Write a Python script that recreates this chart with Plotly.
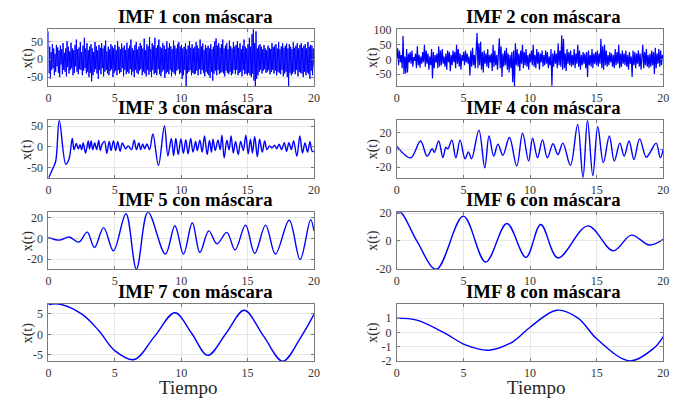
import numpy as np
import plotly.graph_objects as go

# ---------------- data ----------------
t_start, t_end = 0.0, 20.0

imf1_vals = [
    78, -40, 35, -55, 20, -30, 42, -25, 30, -45, 15, -35, 40, -20, 33, -38, 25, -50, 38, -15,
    28, -42, 45, -30, 18, -35, 30, -48, 50, -22, 35, -40, 22, -30, 46, -25, 30, -45, 25, -38,
    40, -20, 55, -35, 28, -42, 33, -28, 48, -30, 20, -45, 38, -32, 60, -25, 30, -40, 45, -35,
    25, -50, 35, -38, 42, -62, 30, -45, 20, -35, 48, -28, 36, -40, 25, -55, 40, -30, 32, -42,
    45, -25, 30, -48, 38, -35, 52, -30, 22, -40, 35, -45, 28, -33, 42, -28, 36, -50, 30, -38,
    40, -32, 25, -45, 50, -30, 35, -40, 28, -36, 44, -25, 32, -48, 38, -30, 26, -42, 46, -35,
    30, -40, 38, -28, 55, -45, 32, -35, 25, -50, 40, -30, 48, -38, 27, -42, 35, -32, 45, -28,
    38, -45, 30, -35, 58, -40, 25, -48, 42, -30, 36, -44, 62, -35, 28, -50, 45, -30, 38, -42,
    60, -38, 32, -45, 40, -28, 55, -42, 35, -48, 30, -35, 45, -30, 38, -52, 28, -40, 50, -35,
    32, -42, 45, -30, 36, -48, 28, -35, 52, -40, 38, -45, 30, -32, 42, -28, 48, -42, 35, -38,
    40, -55, 30, -45, 35, -30, 45, -75, 28, -40, 38, -35, 50, -30, 32, -45, 42, -38, 30, -42,
    35, -40, 48, -32, 38, -45, 30, -28, 55, -42, 36, -30, 44, -38, 26, -48, 40, -35, 32, -40,
    38, -45, 30, -52, 42, -35, 28, -60, 35, -40, 50, -32, 58, -45, 38, -30, 45, -42, 32, -38,
    42, -35, 55, -40, 30, -48, 38, -32, 45, -38, 28, -42, 52, -35, 36, -45, 30, -40, 48, -30,
    35, -42, 40, -30, 50, -45, 32, -38, 45, -35, 28, -48, 38, -30, 55, -42, 35, -40, 30, -45,
    42, -38, 60, -45, 35, -50, 70, -40, 84, -60, 45, -75, 78, -55, 30, -45, 38, -35, 42, -30,
    35, -40, 28, -32, 40, -28, 30, -38, 25, -35, 38, -30, 32, -42, 28, -36, 45, -30, 34, -40,
    38, -32, 42, -45, 30, -35, 48, -38, 28, -42, 36, -30, 45, -48, 32, -40, 38, -35, 44, -50,
    30, -75, 42, -38, 35, -45, 28, -40, 48, -35, 32, -42, 38, -30, 45, -48, 30, -35, 40, -38,
    45, -40, 32, -50, 38, -35, 42, -45, 30, -38, 48, -42, 35, -55, 40, -32, 38, -45, 30, -20,
]

imf2_vals = [
    5, 38, -20, 30, -10, 15, -30, 80, -50, 10, -48, 35, -45, 20, -10,
    25, -15, 30, -25, 8, -5, 20, -30, 45, -20, 15, -28, 10, -15, 25,
    -10, 50, -25, 30, -15, 20, -35, 10, -20, 35, -65, 25, -30, 15, -10,
    20, -30, 45, -25, 30, -20, 35, -15, 10, -25, 20, -35, 30, -10, 25,
    -40, 15, -20, 30, -10, 25, -30, 50, -15, 35, -25, 20, -35, 15, -5,
    25, -20, 30, -10, 20, -15, 10, -55, 30, -25, 40, -20, 15, -30, 25,
    90, -30, 55, -20, 60, -35, 25, -45, 30, -15, 20, -25, 35, -30, 15,
    -10, 20, -40, 50, -25, 30, -20, 15, -35, 40, 72, -30, 45, -60, 20,
    -25, 30, -20, 40, -35, 20, -45, 15, -30, 25, -78, 30, -92, 55, -20,
    35, -25, 20, -40, 30, -15, 50, -30, 25, -20, 35, -25, 15, -35, 20,
    -10, 30, -20, 50, -25, 15, -30, 35, -15, 25, -35, 20, -10, 30, -25,
    15, -20, 30, -15, 25, -30, 10, -20, 35, -90, 20, -25, 30, -15, 20,
    -30, 55, -20, 30, -25, 82, -35, 70, -30, 20, -40, 35, -15, 25, -20,
    30, -25, 15, -20, 35, -30, 20, -15, 50, -25, 30, -35, 15, -20, 25,
    -15, 20, -30, 25, -60, 30, -20, 15, -25, 35, -30, 20, -15, 25, -20,
    30, -25, 20, -15, 70, -30, 45, -35, 50, -20, 30, -25, 15, -20, 25,
    -10, 20, -25, 15, -30, 35, -20, 25, -15, 50, -30, 20, -25, 30, -15,
    20, -20, 30, -25, 15, -35, 25, -15, 10, -60, 30, -20, 25, -30, 20,
    -15, 30, -25, 20, -35, 15, 50, -30, 25, -20, 35, -25, 15, -30, 20,
    -25, 30, -20, 25, -50, 40, -30, 20, -15, 35, -25, 30, -20, 15, 5,
]

# smooth modes: turning points (time, value)
imf3_t = [0, 0.3, 0.55, 0.82, 1.31, 1.55, 1.8, 1.93, 2.1, 2.25, 2.38, 2.5, 2.62, 2.8, 3.0,
          3.1, 3.22, 3.34, 3.49, 3.64, 3.79, 3.91, 4.03, 4.23, 4.4, 4.58, 4.72, 4.9, 5.07,
          5.22, 5.4, 5.57, 5.82, 6.01, 6.26, 6.46, 6.63, 6.81, 6.95, 7.1, 7.25, 7.42, 7.62,
          7.87, 8.29, 8.74, 9.0, 9.26, 9.43, 9.6, 9.78, 9.98, 10.17, 10.35, 10.52, 10.72,
          10.89, 11.09, 11.21, 11.41, 11.58, 11.76, 11.96, 12.13, 12.28, 12.4, 12.57, 12.77,
          12.94, 13.07, 13.24, 13.44, 13.61, 13.76, 13.93, 14.1, 14.3, 14.48, 14.68, 14.87,
          15.05, 15.22, 15.37, 15.54, 15.74, 15.91, 16.11, 16.29, 16.46, 16.66, 16.85, 17.03,
          17.2, 17.38, 17.57, 17.77, 17.94, 18.12, 18.3, 18.47, 18.72, 18.94, 19.14, 19.33,
          19.52, 19.7, 19.87, 20]
imf3_v = [-76, -55, -35, 64, -42, -30, 20, -7, 8, -5, 5, -7, 9, -15, 14,
          -5, 14, -7, 9, -7, 15, -9, 5, 13, -16, 13, -9, 14, -9,
          12, -11, 9, -5, 2, -7, 16, -7, 9, -7, 7, -5, 7, -7,
          31, -45, 50, -22, 20, -21, 20, -19, 19, -16, 17, -17, 20,
          -13, 13, -9, 16, -13, 26, -19, 15, -13, 18, -9, 16,
          -7, 28, -27, 16, -7, 26, -15, 13, -19, 13, -9, 28,
          -17, 18, -15, 24, -24, 18, -13, 14, -7, 2, -3, 4,
          -5, 6, -7, 10, -11, 10, -7, 14, -23, 26, -15, 9,
          -13, 12, -11, -11]

imf4_t = [0, 1.04, 1.78, 2.27, 2.65, 2.82, 3.14, 3.46, 3.68, 3.83, 4.13, 4.43, 4.75, 5.12,
          5.37, 5.61, 6.16, 6.6, 6.92, 7.27, 7.59, 7.96, 8.45, 9.0, 9.44, 9.89, 10.19, 10.56,
          10.93, 11.3, 11.72, 12.09, 12.46, 13.03, 13.57, 13.97, 14.31, 14.71, 15.08, 15.5,
          15.95, 16.32, 16.74, 17.06, 17.43, 17.8, 18.22, 18.71, 18.96, 19.46, 19.78, 20]
imf4_v = [3.8, -9.4, 10, -7.5, 1, -3, 10, -9, 2.5, 1, 11, -9.4, 11, -10.6,
          -2.6, -10.6, 22.6, -20.8, 15.8, -7.5, 6.4, -6.4, 14, -18.9, 18.9, -13.2, 13.2, -9.4,
          11.3, -9.4, 6.8, -5.7, 7.5, -18.1, 29, -32, 34, -30, 26.4, -15,
          15.8, -13.2, 7.5, -7.5, 10, -11.3, 12.5, -8.7, -4.5, 7.5, -9.4, 1.1]

imf5_t = [0, 0.82, 1.56, 2.3, 2.92, 3.47, 4.16, 4.9, 5.84, 6.63, 7.5, 8.81, 9.53, 10.17,
          10.84, 11.41, 12.08, 12.7, 13.44, 14.06, 14.85, 15.54, 16.36, 17.1, 18.14, 18.96,
          19.75, 20]
imf5_v = [1.2, -1.5, 1.5, -3.4, 6.2, -8.7, 10.6, -11.9, 24, -29.7, 25.6, -15, 12.5, -15,
          15.3, -13.4, 7.5, -5, 6, -11, 13, -14.4, 13, -15, 17.8, -20.3,
          18.4, 7.5]

imf6_t = [0, 0.3, 1.5, 2.97, 4.99, 6.67, 8.26, 9.69, 10.8, 12.09, 14.34, 16.24, 17.6, 18.96, 20]
imf6_v = [20.6, 20.7, 0, -20.5, 17.9, -15.3, 12.6, -11.9, 11.9, -12.3, 10.9, -7.2, 4.2, -3, 1.2]

imf7_t = [0, 0.9, 2.55, 3.79, 5.02, 6.46, 8.0, 9.53, 10.8, 12.0, 13.4, 14.75, 16.2, 17.65, 19.0, 20]
imf7_v = [7.2, 7.25, 4.8, 0.9, -4.0, -6.1, -0.5, 5.2, 0.2, -5.1, 0.3, 5.8, -0.4, -6.5, -0.8, 4.8]

imf8_t = [0, 1.5, 3.5, 5.2, 6.9, 8.7, 10.0, 12.0, 13.6, 15.0, 17.5, 19.3, 20]
imf8_v = [1.0, 0.86, 0.0, -0.9, -1.25, -0.66, 0.36, 1.55, 1.0, -0.45, -2.0, -1.1, -0.3]

titles = [f"IMF {k} con máscara" for k in range(1, 9)]
x_ticks = [0, 5, 10, 15, 20]

panels = [
    dict(t=np.linspace(t_start, t_end, len(imf1_vals)), v=imf1_vals, shape="linear", w=1.0,
         yr=[-76, 84], yt=[-50, 0, 50]),
    dict(t=np.linspace(t_start, t_end, len(imf2_vals)), v=imf2_vals, shape="linear", w=1.2,
         yr=[-92, 103], yt=[-50, 0, 50, 100]),
    dict(t=imf3_t, v=imf3_v, shape="spline", w=1.4, yr=[-76, 64], yt=[-50, 0, 50]),
    dict(t=imf4_t, v=imf4_v, shape="spline", w=1.4, yr=[-33, 34], yt=[-20, 0, 20]),
    dict(t=imf5_t, v=imf5_v, shape="spline", w=1.4, yr=[-29.7, 25.6], yt=[-20, 0, 20]),
    dict(t=imf6_t, v=imf6_v, shape="spline", w=1.4, yr=[-20.5, 20.8], yt=[-20, 0, 20]),
    dict(t=imf7_t, v=imf7_v, shape="spline", w=1.4, yr=[-6.5, 7.3], yt=[-5, 0, 5]),
    dict(t=imf8_t, v=imf8_v, shape="spline", w=1.4, yr=[-2.02, 1.98], yt=[-2, -1, 0, 1]),
]

# ---------------- layout geometry ----------------
W, H = 693, 404
x_dom = [[46 / W, 315 / W], [399 / W, 669 / W]]
rows_px = [(24, 83), (118, 178), (213, 272), (308, 367)]
y_dom = [[1 - b / H, 1 - t / H] for t, b in rows_px]
title_x = [195 / W, 548 / W]
ylabel_x = [25 / W, 375 / W]
xlabel_x = [187 / W, 540 / W]

serif = "Liberation Serif, Times New Roman, serif"
frame = "#7a7a7a"
grid = "#e6e6e6"
tick_font = dict(family=serif, size=12, color="#333333")

fig = go.Figure()
annotations = []
layout = {}

for i, p in enumerate(panels):
    k = i + 1
    row, col = divmod(i, 2)
    fig.add_trace(go.Scatter(
        x=p["t"], y=p["v"], mode="lines",
        line=dict(color="#0000ff", width=p["w"], shape=p["shape"]),
        xaxis=f"x{k}", yaxis=f"y{k}", showlegend=False, hoverinfo="skip",
    ))
    layout[f"xaxis{k}"] = dict(
        domain=x_dom[col], anchor=f"y{k}", range=[t_start, t_end],
        tickmode="array", tickvals=x_ticks, ticktext=[str(v) for v in x_ticks],
        showgrid=True, gridcolor=grid, gridwidth=1, zeroline=False,
        showline=True, linecolor=frame, linewidth=1, mirror="ticks",
        ticks="inside", ticklen=3, tickcolor=frame, tickfont=tick_font,
    )
    layout[f"yaxis{k}"] = dict(
        domain=y_dom[row], anchor=f"x{k}", range=p["yr"],
        tickmode="array", tickvals=p["yt"], ticktext=[str(v) for v in p["yt"]],
        showgrid=True, gridcolor=grid, gridwidth=1, zeroline=False,
        showline=True, linecolor=frame, linewidth=1, mirror="ticks",
        ticks="inside", ticklen=3, tickcolor=frame, tickfont=tick_font,
        ticklabelstandoff=2,
    )
    annotations.append(dict(
        text=f"<b>{titles[i]}</b>", x=title_x[col], y=y_dom[row][1],
        xref="paper", yref="paper", xanchor="center", yanchor="middle",
        yshift=13, showarrow=False, font=dict(family=serif, size=18.7, color="#000000"),
    ))
    annotations.append(dict(
        text="x(t)", x=ylabel_x[col], y=(y_dom[row][0] + y_dom[row][1]) / 2,
        xref="paper", yref="paper", xanchor="center", yanchor="middle",
        textangle=-90, showarrow=False, font=dict(family=serif, size=14, color="#262626"),
    ))

for col in range(2):
    annotations.append(dict(
        text="Tiempo", x=xlabel_x[col], y=1 - 394 / H,
        xref="paper", yref="paper", xanchor="center", yanchor="middle",
        showarrow=False, font=dict(family=serif, size=19, color="#262626"),
    ))

fig.update_layout(
    width=W, height=H, margin=dict(l=0, r=0, t=0, b=0),
    paper_bgcolor="white", plot_bgcolor="white",
    annotations=annotations, **layout,
)

fig.write_html("out.html")
